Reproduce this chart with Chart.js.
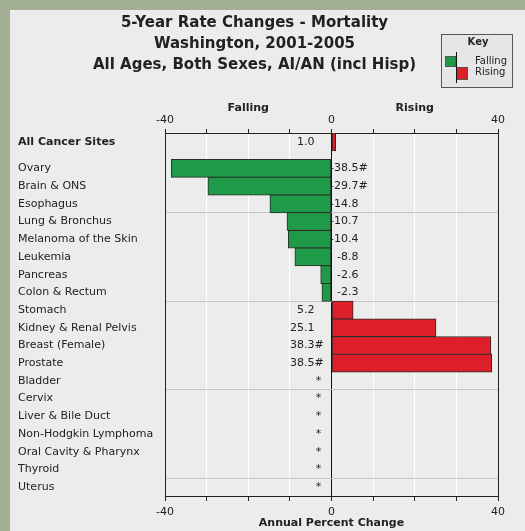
<!DOCTYPE html>
<html>
<head>
<meta charset="utf-8">
<script src="https://cdn.jsdelivr.net/npm/chart.js@4.4.1/dist/chart.umd.min.js"></script>
<style>
    html, body { margin: 0; padding: 0; background: #a3af93; }
    body { width: 525px; height: 531px; overflow: hidden; position: relative; }
    #panel { position: absolute; left: 10px; top: 10px; width: 515px; height: 521px; background: #ececec; }
</style>
</head>
<body>
<div id="panel"><canvas id="rateChart" width="515" height="521"></canvas></div>
<script>
const sites = [
    'All Cancer Sites', 'Ovary', 'Brain & ONS', 'Esophagus', 'Lung & Bronchus',
    'Melanoma of the Skin', 'Leukemia', 'Pancreas', 'Colon & Rectum', 'Stomach',
    'Kidney & Renal Pelvis', 'Breast (Female)', 'Prostate', 'Bladder', 'Cervix',
    'Liver & Bile Duct', 'Non-Hodgkin Lymphoma', 'Oral Cavity & Pharynx', 'Thyroid', 'Uterus'
];
// null = rate not shown (*)
const changes = [1.0, -38.5, -29.7, -14.8, -10.7, -10.4, -8.8, -2.6, -2.3, 5.2,
    25.1, 38.3, 38.5, null, null, null, null, null, null, null];
const significant = [false, true, true, false, false, false, false, false, false, false,
    false, true, true, false, false, false, false, false, false, false];
const axisLabels = [-40, 0, 40];
const titleLines = ['5-Year Rate Changes - Mortality', 'Washington, 2001-2005', 'All Ages, Both Sexes, AI/AN (incl Hisp)'];

const FONT = 'DejaVu Sans';
const GREEN = '#1e9a48';
const RED = '#dc1f28';
const INK = '#222';

// first row stands apart, the rest follow half a row later
const rowPos = (i) => i === 0 ? 0.5 : i + 1;
const rowMax = rowPos(sites.length - 1) + 0.5;
const separators = [];
for (let p = 4.5; p < rowMax; p += 5) separators.push(p);

const decorations = {
    id: 'decorations',
    afterDatasetsDraw(chart) {
        const ctx = chart.ctx;
        const xs = chart.scales.x;
        const ys = chart.scales.y;
        const x0 = xs.getPixelForValue(0);
        ctx.save();
        ctx.fillStyle = INK;
        ctx.textBaseline = 'middle';
        ctx.font = '11px "' + FONT + '"';
        changes.forEach((v, i) => {
            const y = ys.getPixelForValue(rowPos(i));
            if (v === null) {
                ctx.textAlign = 'center';
                ctx.fillText('*', x0 - 13, y);
                return;
            }
            const xr = v < 0 ? x0 + 27 : x0 - 17;
            ctx.textAlign = 'right';
            ctx.fillText(v.toFixed(1), xr, y);
            if (significant[i]) {
                ctx.textAlign = 'left';
                ctx.fillText('#', xr, y);
            }
        });
        ctx.restore();
    },
    afterDraw(chart) {
        const ctx = chart.ctx;
        const xs = chart.scales.x;
        const area = chart.chartArea;
        ctx.save();
        ctx.fillStyle = INK;
        ctx.textAlign = 'center';
        ctx.textBaseline = 'middle';

        ctx.font = 'bold 15px "' + FONT + '"';
        titleLines.forEach((t, i) => ctx.fillText(t, 244.5, 13 + i * 21));

        ctx.font = 'bold 11px "' + FONT + '"';
        ctx.fillText('Falling', xs.getPixelForValue(-20), 98);
        ctx.fillText('Rising', xs.getPixelForValue(20), 98);
        ctx.fillText('Annual Percent Change', (area.left + area.right) / 2, 513);

        // key box
        ctx.fillStyle = '#e6e6e6';
        ctx.fillRect(431, 24, 71, 53);
        ctx.strokeStyle = '#555';
        ctx.lineWidth = 1;
        ctx.strokeRect(431.5, 24.5, 71, 53);
        ctx.fillStyle = INK;
        ctx.font = 'bold 10px "' + FONT + '"';
        ctx.fillText('Key', 468, 32);
        ctx.fillStyle = GREEN;
        ctx.fillRect(435, 46, 11, 11);
        ctx.strokeRect(435.5, 46.5, 10, 10);
        ctx.fillStyle = RED;
        ctx.fillRect(447, 57, 11, 12);
        ctx.strokeRect(446.5, 57.5, 11, 12);
        ctx.strokeStyle = '#111';
        ctx.beginPath();
        ctx.moveTo(446.5, 42);
        ctx.lineTo(446.5, 73);
        ctx.stroke();
        ctx.fillStyle = INK;
        ctx.textAlign = 'left';
        ctx.font = '10px "' + FONT + '"';
        ctx.fillText('Falling', 465, 51);
        ctx.fillText('Rising', 465, 62);
        ctx.restore();
    }
};

const ctx = document.getElementById('rateChart').getContext('2d');
window.rateChart = new Chart(ctx, {
    type: 'bar',
    data: {
        datasets: [{
            label: 'Annual Percent Change',
            data: changes.map((v, i) => ({ x: v, y: rowPos(i) })),
            backgroundColor: changes.map(v => v < 0 ? GREEN : RED),
            borderColor: '#2a2a2a',
            borderWidth: 1,
            borderSkipped: false,
            barThickness: 18,
            xAxisID: 'x',
            yAxisID: 'y'
        }]
    },
    options: {
        indexAxis: 'y',
        responsive: false,
        animation: false,
        layout: { padding: { left: 8, right: 27, top: 105, bottom: 7 } },
        plugins: {
            legend: { display: false },
            title: { display: false },
            tooltip: { enabled: false }
        },
        scales: {
            x: {
                type: 'linear',
                position: 'top',
                min: -40,
                max: 40,
                ticks: {
                    stepSize: 10,
                    autoSkip: false,
                    maxRotation: 0,
                    padding: 2,
                    color: INK,
                    font: { family: FONT, size: 11 },
                    callback: (v) => axisLabels.includes(v) ? String(v) : ''
                },
                grid: {
                    color: (c) => c.tick.value === 0 ? '#111' : (Math.abs(c.tick.value) === 40 ? 'rgba(0,0,0,0)' : '#ffffff'),
                    tickColor: INK,
                    tickLength: 4
                },
                border: { color: INK },
                afterFit: (s) => { s.height = 18; }
            },
            x2: {
                type: 'linear',
                position: 'bottom',
                min: -40,
                max: 40,
                ticks: {
                    stepSize: 10,
                    autoSkip: false,
                    maxRotation: 0,
                    padding: 5,
                    color: INK,
                    font: { family: FONT, size: 11 },
                    callback: (v) => axisLabels.includes(v) ? String(v) : ''
                },
                grid: { drawOnChartArea: false, tickColor: INK, tickLength: 5 },
                border: { color: INK },
                afterFit: (s) => { s.height = 28; }
            },
            y: {
                type: 'linear',
                position: 'left',
                reverse: true,
                offset: false,
                min: 0,
                max: rowMax,
                afterBuildTicks: (s) => { s.ticks = sites.map((_, i) => ({ value: rowPos(i) })); },
                ticks: {
                    crossAlign: 'far',
                    autoSkip: false,
                    color: INK,
                    font: (c) => ({ family: FONT, size: 11, weight: c.index === 0 ? 'bold' : 'normal' }),
                    callback: (v, i) => sites[i]
                },
                grid: { display: false, drawTicks: false, offset: false },
                border: { color: INK },
                afterFit: (s) => { s.width = 147; }
            },
            yr: {
                type: 'linear',
                position: 'right',
                reverse: true,
                offset: false,
                min: 0,
                max: rowMax,
                afterBuildTicks: (s) => { s.ticks = separators.map(p => ({ value: p })); },
                ticks: { display: false },
                grid: { color: '#c6c6c6', drawTicks: false, offset: false },
                border: { color: INK },
                afterFit: (s) => { s.width = 0; }
            }
        }
    },
    plugins: [decorations]
});
</script>
</body>
</html>
